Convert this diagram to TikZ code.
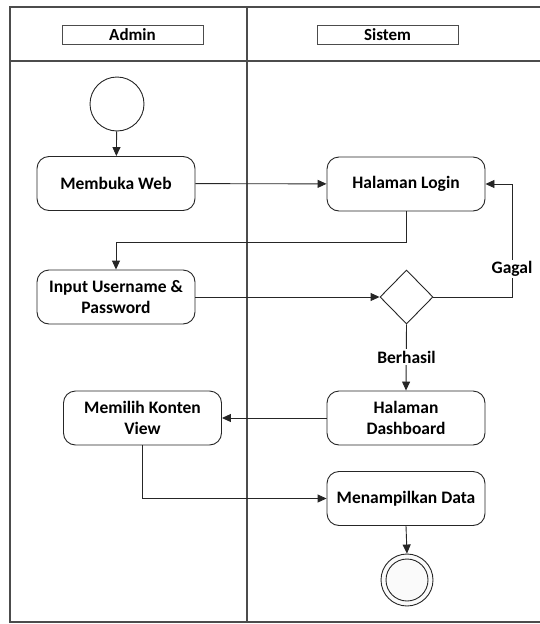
\documentclass[tikz,border=0pt]{standalone}
\usepackage{fontspec}
\setmainfont{Carlito}
\usetikzlibrary{arrows.meta,shapes.geometric,calc}
\definecolor{lanecol}{gray}{0.3}
\begin{document}
\begin{tikzpicture}[x=1pt,y=-1pt,
  lane/.style={draw=lanecol,line width=1.2pt},
  act/.style={draw=black!85,line width=0.9pt,rounded corners=12pt,minimum width=158pt,minimum height=54pt,align=center,font=\fontsize{17.5}{21}\selectfont\bfseries,inner sep=2pt},
  hdr/.style={draw=lanecol,line width=0.9pt,minimum width=141pt,minimum height=19pt,inner sep=0pt,font=\fontsize{17}{19}\selectfont\bfseries},
  flow/.style={draw=black!85,line width=0.9pt,-{Triangle[length=9pt,width=8pt]}},
  lbl/.style={fill=white,inner sep=1.5pt,font=\fontsize{17.5}{21}\selectfont\bfseries}]
\useasboundingbox (0,0) rectangle (540,624);
% swimlanes
\draw[lane] (540,7) -- (10,7) -- (10,622) -- (540,622);
\draw[lane] (10,61) -- (540,61);
\draw[lane] (247,7) -- (247,622);
\node[hdr] (hadmin) at (132.5,34.5) {Admin};
\node[hdr] (hsistem) at (387.5,34.5) {Sistem};
% nodes
\node[circle,draw=black!85,line width=0.9pt,minimum size=54pt,inner sep=0pt] (start) at (117,104) {};
\node[act] (web) at (116,183.5) {Membuka Web};
\node[act] (login) at (406,184) {Halaman Login};
\node[act] (input) at (116,297) {Input Username \&\\Password};
\node[diamond,draw=black!85,line width=0.9pt,minimum width=53pt,minimum height=54pt,inner sep=0pt,aspect=1] (dec) at (406.5,297) {};
\node[act] (dash) at (406,418) {Halaman\\Dashboard};
\node[act] (pilih) at (142.5,418) {Memilih Konten\\View};
\node[act] (tampil) at (406,498.5) {Menampilkan Data};
\node[circle,draw=black!85,line width=0.9pt,minimum size=52pt,inner sep=0pt,fill=gray!4] (end) at (407,580) {};
\node[circle,draw=black!85,line width=0.9pt,minimum size=42pt,inner sep=0pt] (endin) at (407,580) {};
\coordinate (gk) at (512,297);
\coordinate (lk) at (406,242);
% connectors
\draw[flow] (start) -- (web);
\draw[flow] (web) -- (login);
\draw[flow] (login.south) -- (lk) -| (input.north);
\draw[flow] (input.east) -- (dec.west);
\draw[flow] (dec.east) -- (gk) |- (login.east);
\node[lbl] (gagal) at (512,269) {Gagal};
\draw[flow] (dec.south) -- (dash.north);
\node[lbl] (berhasil) at (406.5,357) {Berhasil};
\draw[flow] (dash.west) -- (pilih.east);
\draw[flow] (pilih.south) |- (tampil.west);
\draw[flow] (tampil.south) -- (end.north);
\end{tikzpicture}
\end{document}
